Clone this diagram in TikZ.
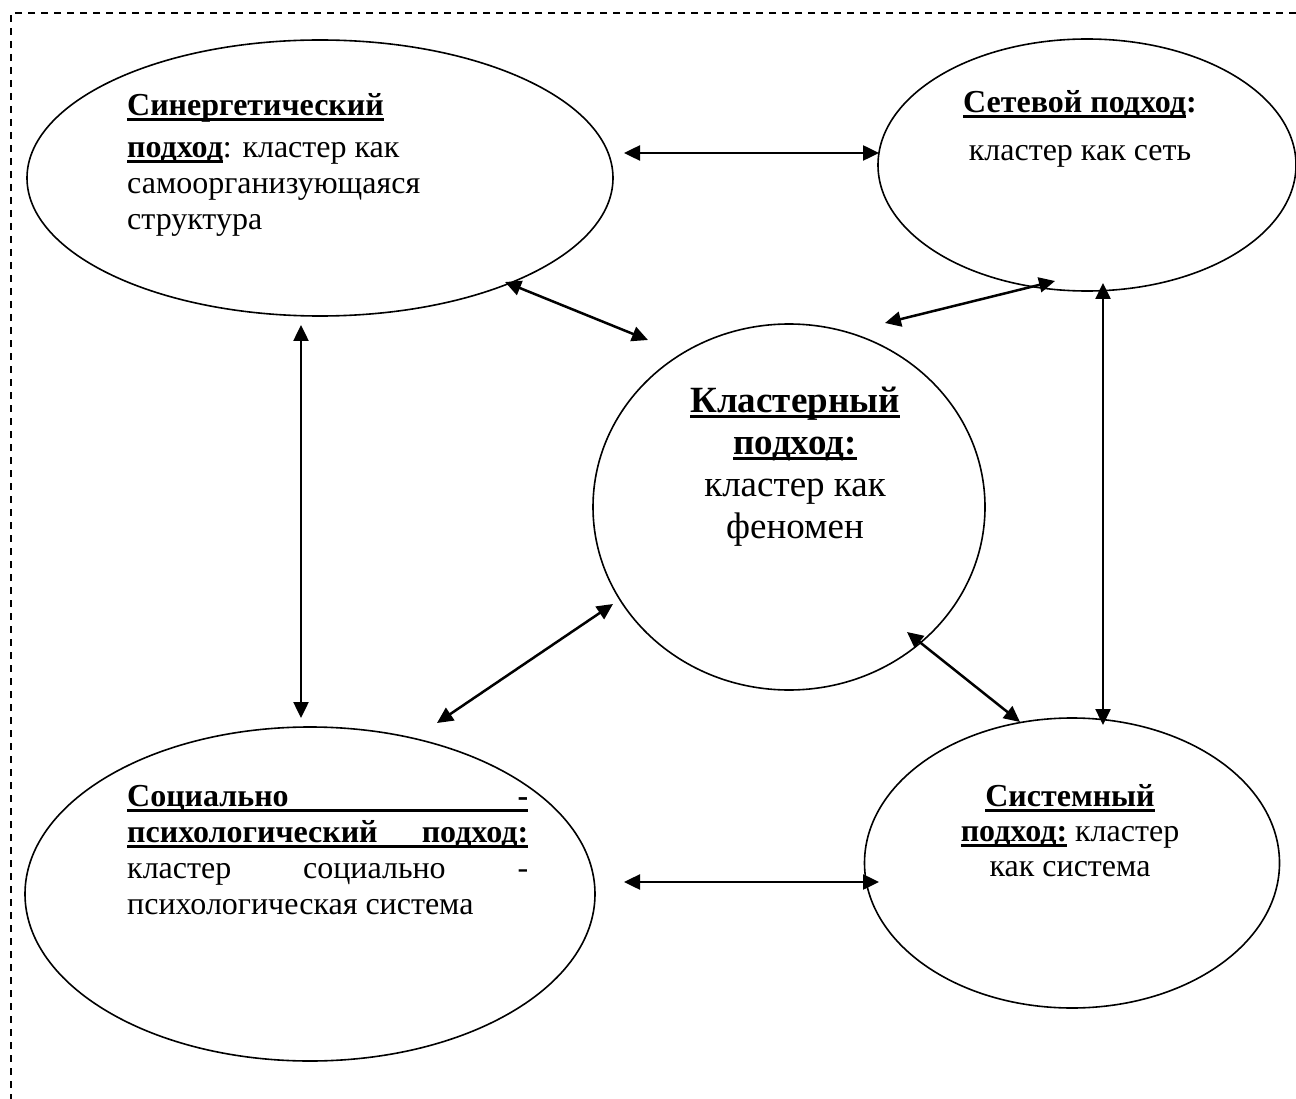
\documentclass[tikz,border=0pt]{standalone}
\usepackage{fontspec}
\setmainfont{Liberation Serif}
\usetikzlibrary{arrows.meta,shapes.geometric}

% bold text with a heavy underline
\newcommand\bul[1]{\leavevmode\setbox0\hbox{\bfseries #1}\rlap{\rule[-6pt]{\wd0}{3pt}}\box0}
% fixed first-line height, so that a node's top edge sits a known distance above its first baseline
\newcommand\firstline[1]{\rule{0pt}{#1}}

\tikzset{
  frame/.style={line width=1.2pt, dash pattern=on 7pt off 6pt},
  oval/.style={draw, ellipse, line width=1.6pt, inner sep=0pt},
  link/.style={line width=2.5pt, {Triangle[length=16pt,width=15pt]}-{Triangle[length=16pt,width=15pt]}},
  txt/.style={inner sep=0pt, font=\fontsize{32}{#1}\selectfont},
  bigtxt/.style={inner sep=0pt, font=\fontsize{37}{42}\selectfont, align=center}
}

\begin{document}
\begin{tikzpicture}[x=1pt, y=-1pt]
\useasboundingbox (0,0) rectangle (1296,1099);

% dashed frame (top and left sides)
\draw[frame] (1296,13) -- (11,13) -- (11,1099);

% ovals
\node[oval, minimum width=586pt, minimum height=276pt] (syn) at (320,178) {};
\node[oval, minimum width=418pt, minimum height=252pt] (net) at (1087,165) {};
\node[oval, minimum width=392pt, minimum height=366pt] (core) at (789,507) {};
\node[oval, minimum width=570pt, minimum height=334pt] (soc) at (310,894) {};
\node[oval, minimum width=415pt, minimum height=290pt] (sys) at (1072,863) {};

% texts (first baselines: 115, 112, 412, 806, 806)
\node[txt=36, anchor=north west, align=left] (syntxt) at (127,87)
  {\firstline{28pt}\bul{Синергетический}\\[6pt] \bul{подход}: кластер как\\ самоорганизующаяся\\ структура};
\node[txt=36, anchor=north, align=center] (nettxt) at (1080,84)
  {\firstline{28pt}\bul{Сетевой подход}\textbf{:}\\[12pt] кластер как сеть};
\node[bigtxt, anchor=north] (coretxt) at (795,380)
  {\firstline{32pt}\bul{Кластерный}\\ \bul{подход:}\\ кластер как\\ феномен};
\node[txt=36, anchor=north west, align=left] (soctxt) at (127,778)
  {\firstline{28pt}\bul{\makebox[401pt][s]{Социально -}}\\
   \bul{\makebox[401pt][s]{психологический подход:}}\\
   \makebox[401pt][s]{кластер социально -}\\
   психологическая система};
\node[txt=35, anchor=north, align=center] (systxt) at (1070,778)
  {\firstline{28pt}\bul{Системный}\\ \bul{подход:}\ кластер\hspace*{26pt}\\ как система};

% connector end points
\coordinate (t1) at (624,153);  \coordinate (t2) at (879,153);
\coordinate (a1) at (505,282);  \coordinate (a2) at (648,340);
\coordinate (b1) at (885,323);  \coordinate (b2) at (1055,281);
\coordinate (v1) at (301,325);  \coordinate (v2) at (301,718);
\coordinate (w1) at (1103,283); \coordinate (w2) at (1103,725);
\coordinate (c1) at (437,723);  \coordinate (c2) at (613,604);
\coordinate (d1) at (907,632);  \coordinate (d2) at (1020,722);
\coordinate (h1) at (624,882);  \coordinate (h2) at (879,882);

% two-way links
\draw[link] (t1) -- (t2);
\draw[link] (a1) -- (a2);
\draw[link] (b1) -- (b2);
\draw[link] (v1) -- (v2);
\draw[link] (w1) -- (w2);
\draw[link] (c1) -- (c2);
\draw[link] (d1) -- (d2);
\draw[link] (h1) -- (h2);
\end{tikzpicture}
\end{document}
